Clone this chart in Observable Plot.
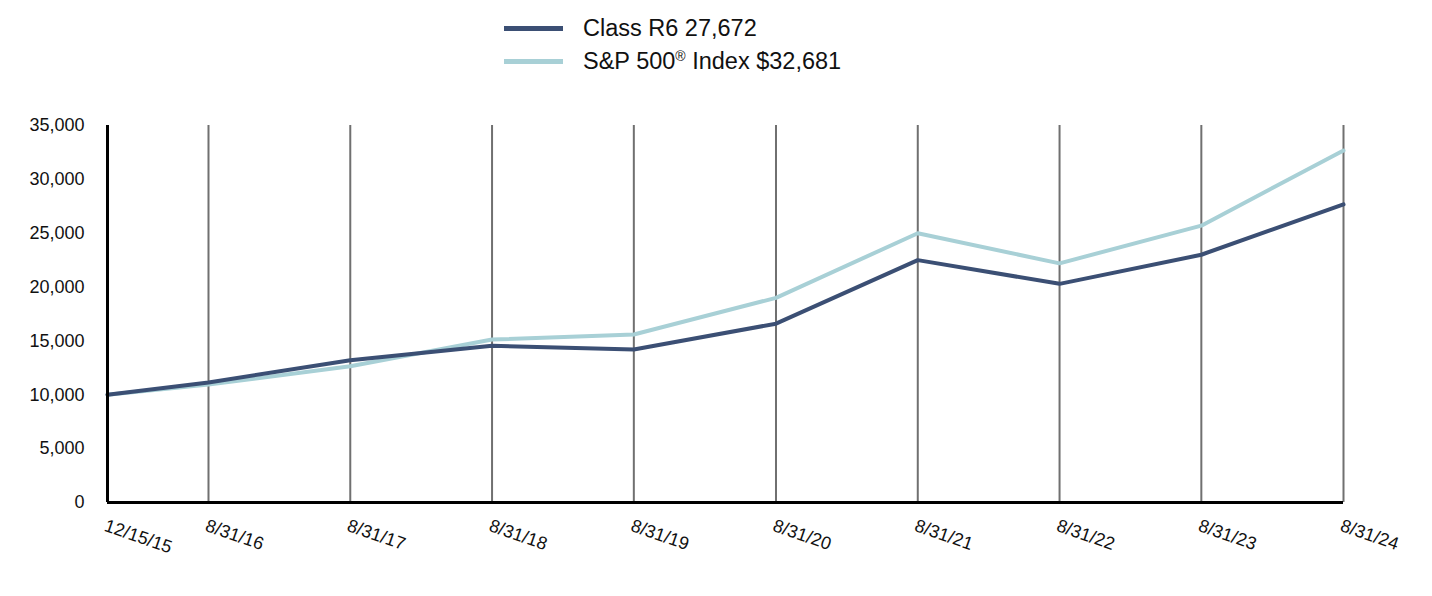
<!DOCTYPE html>
<html>
<head>
<meta charset="utf-8">
<script src="https://cdn.jsdelivr.net/npm/d3@7"></script>
<script src="https://cdn.jsdelivr.net/npm/@observablehq/plot@0.6"></script>
<style>
  body { margin: 0; background: #fff; font-family: "Liberation Sans", Arial, sans-serif; }
  #legend { position: relative; height: 100px; }
  .item { position: absolute; left: 504px; display: flex; align-items: center; font-size: 23.5px; color: #111; }
  .swatch { width: 59px; height: 4.5px; margin-right: 20px; }
  sup { font-size: 14px; vertical-align: 8px; }
</style>
</head>
<body>
<div id="legend">
  <div class="item" style="top:15px"><span class="swatch" style="background:#3b4f74"></span><span>Class R6 27,672</span></div>
  <div class="item" style="top:48px"><span class="swatch" style="background:#a8d0d6"></span><span>S&amp;P 500<sup>®</sup> Index $32,681</span></div>
</div>
<div id="chart"></div>
<script>
const dateStrings = ["2015-12-15","2016-08-31","2017-08-31","2018-08-31","2019-08-31","2020-08-31","2021-08-31","2022-08-31","2023-08-31","2024-08-31"];
const tickLabels = ["12/15/15","8/31/16","8/31/17","8/31/18","8/31/19","8/31/20","8/31/21","8/31/22","8/31/23","8/31/24"];
const classR6 = [10000, 11150, 13200, 14550, 14200, 16600, 22500, 20300, 23000, 27672];
const sp500 = [10000, 10950, 12650, 15130, 15600, 19000, 25000, 22200, 25700, 32681];
const yTicks = [0, 5000, 10000, 15000, 20000, 25000, 30000, 35000];

const dates = dateStrings.map(s => new Date(s + "T00:00:00Z"));
const rows = [];
dates.forEach((d, i) => {
  rows.push({date: d, value: classR6[i], series: "Class R6"});
  rows.push({date: d, value: sp500[i], series: "S&P 500"});
});
const labelRows = dates.map((d, i) => ({date: d, label: tickLabels[i]}));

const chart = Plot.plot({
  width: 1432,
  height: 496,
  marginTop: 25,
  marginBottom: 94,
  marginLeft: 107,
  marginRight: 89,
  style: {fontFamily: "'Liberation Sans', Arial, sans-serif", background: "#fff"},
  x: {type: "utc", domain: [dates[0], dates[dates.length - 1]]},
  y: {domain: [0, 35000]},
  marks: [
    Plot.ruleX(dates.slice(1), {stroke: "#707070", strokeWidth: 2}),
    Plot.axisY({ticks: yTicks, tickFormat: d3.format(","), tickSize: 0, tickPadding: 23, fontSize: 18, fill: "#111", label: null}),
    Plot.axisX({ticks: [], label: null}),
    Plot.line(rows.filter(r => r.series === "S&P 500"), {x: "date", y: "value", stroke: "#a8d0d6", strokeWidth: 4}),
    Plot.line(rows.filter(r => r.series === "Class R6"), {x: "date", y: "value", stroke: "#3b4f74", strokeWidth: 4}),
    Plot.ruleX([dates[0]], {stroke: "#000", strokeWidth: 3}),
    Plot.ruleY([0], {stroke: "#000", strokeWidth: 3}),
    Plot.text(labelRows, {x: "date", text: "label", frameAnchor: "bottom", lineAnchor: "top", textAnchor: "start", dy: 16, dx: 0, rotate: 19, fontSize: 18, fill: "#111"})
  ]
});
document.getElementById("chart").appendChild(chart);
</script>
</body>
</html>
